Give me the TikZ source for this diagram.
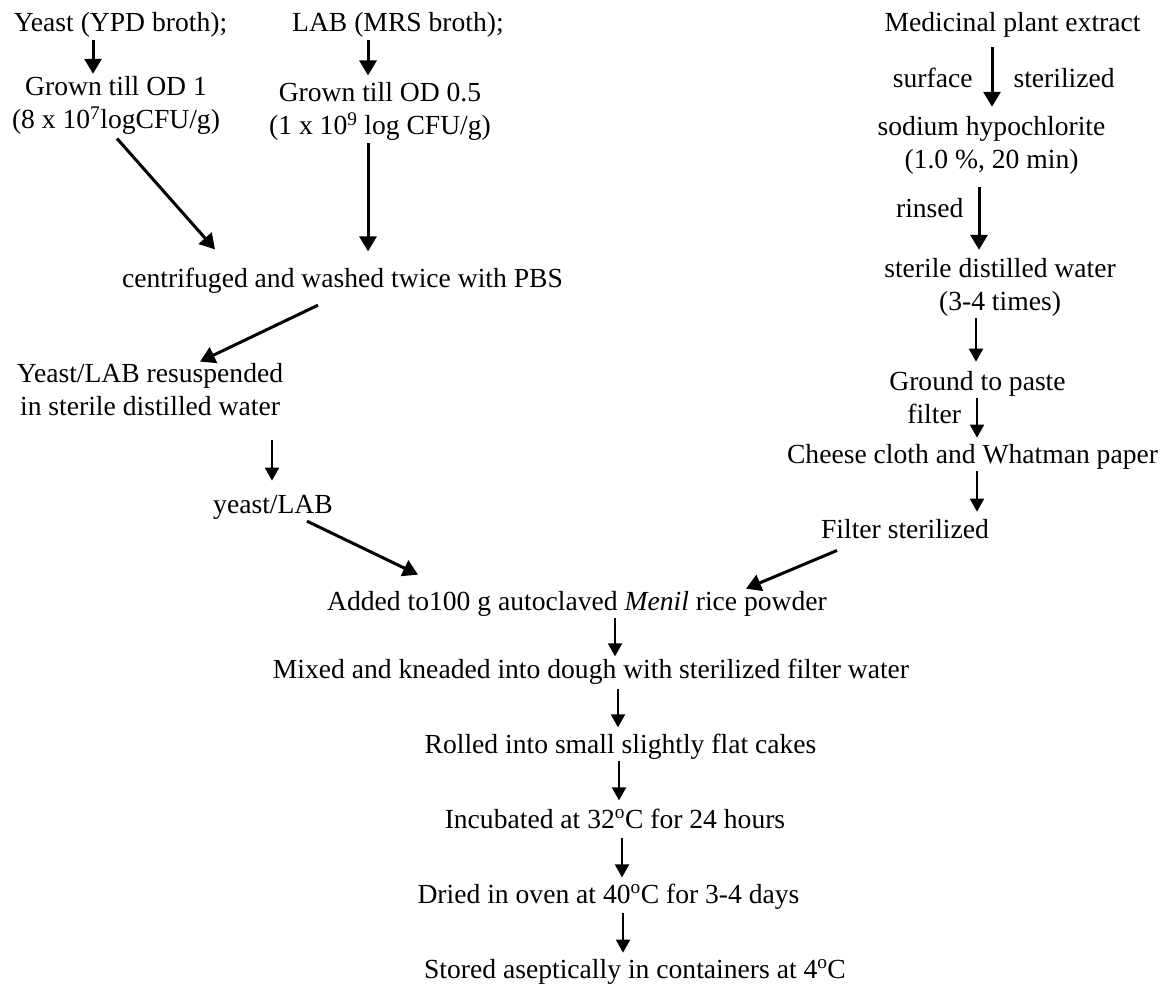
\documentclass[tikz,border=0pt]{standalone}
\usepackage{fontspec}
\setmainfont{Liberation Serif}
\usetikzlibrary{arrows.meta}

\begin{document}
\begin{tikzpicture}[x=1pt, y=-1pt,
  font=\fontsize{27.6}{33}\selectfont,
  every node/.style={inner sep=2pt},
  flow/.style={-{Triangle[length=15pt,width=17pt]}, line width=3pt},
  thinflow/.style={-{Triangle[length=13pt,width=14pt]}, line width=2pt}]

 \useasboundingbox (0,0) rectangle (1169,986);

 %left branch: cultures
 \node[anchor=base] (yeast) at (120.5,31.7) {Yeast (YPD broth);};
 \node[anchor=base] (lab) at (398,31.7) {LAB (MRS broth);};
 \node[align=center] (grownA) at (116,105) {Grown till OD 1\\(8 x 10\textsuperscript{7}logCFU/g)};
 \node[align=center] (grownB) at (380,111.7) {Grown till OD 0.5\\(1 x 10\textsuperscript{9} log CFU/g)};
 \node[anchor=base] (centr) at (342.5,287) {centrifuged and washed twice with PBS};
 \node[align=center] (resusp) at (150,390) {Yeast/LAB resuspended\\in sterile distilled water};
 \node[anchor=base] (ylab) at (273,513) {yeast/LAB};

 %right branch: plant extract
 \node[anchor=base] (medic) at (1012.5,31.7) {Medicinal plant extract};
 \node[align=center] (sodium) at (991.5,145) {sodium hypochlorite\\(1.0 \%, 20 min)};
 \node[align=center] (sterile) at (1000,287) {sterile distilled water\\(3-4 times)};
 \node[anchor=base] (ground) at (977.5,390) {Ground to paste};
 \node[anchor=base] (cheese) at (972.5,463) {Cheese cloth and Whatman paper};
 \node[anchor=base] (filtst) at (905,538) {Filter sterilized};

 %common steps
 \node[anchor=base] (added) at (577,610) {Added to100 g autoclaved \textit{Menil} rice powder};
 \node[anchor=base] (mixed) at (591,678) {Mixed and kneaded into dough with sterilized filter water};
 \node[anchor=base] (rolled) at (620.5,753) {Rolled into small slightly flat cakes};
 \node[anchor=base] (incub) at (615,828) {Incubated at 32\textsuperscript{o}C for 24 hours};
 \node[anchor=base] (dried) at (608.5,903) {Dried in oven at 40\textsuperscript{o}C for 3-4 days};
 \node[anchor=base] (stored) at (635,978) {Stored aseptically in containers at 4\textsuperscript{o}C};

 %arrows left
 \draw[flow] ([xshift=-27.5pt]yeast.south) -- ([xshift=-23pt]grownA.north);
 \draw[flow, shorten >=5pt] ([xshift=-30pt]lab.south) -- ([xshift=-12pt]grownB.north);
 \draw[flow, shorten <=3pt] ([xshift=-1pt]grownA.south) -- ([xshift=-127.5pt,yshift=16pt]centr.north);
 \draw[flow] ([xshift=-12pt]grownB.south) -- ([xshift=25.5pt,yshift=14pt]centr.north);
 \draw[flow] ([xshift=-24.5pt,yshift=-10pt]centr.south) -- ([xshift=50pt]resusp.north);
 \draw[thinflow] ([xshift=122pt,yshift=-22pt]resusp.south) -- ([xshift=-1pt,yshift=12pt]ylab.north);
 \draw[flow] ([xshift=34pt]ylab.south) -- ([xshift=-159pt,yshift=14pt]added.north);

 %arrows right
 \draw[flow] ([xshift=-20.5pt,yshift=-7pt]medic.south) -- node[pos=.525, left=18pt, inner sep=0pt] (surf) {surface}
   node[pos=.525, right=20pt, inner sep=0pt] (steril) {sterilized} ([xshift=0.5pt,yshift=7pt]sodium.north);
 \draw[flow] ([xshift=-12.5pt,yshift=-11pt]sodium.south) -- node[pos=.34, left=14pt, inner sep=0pt] (rins) {rinsed}
   ([xshift=-21pt,yshift=6pt]sterile.north);
 \draw[thinflow] ([xshift=-24pt]sterile.south) -- ([xshift=-1.5pt,yshift=7pt]ground.north);
 \draw[thinflow] ([xshift=-0.5pt]ground.south) -- node[pos=.41, left=15pt, inner sep=0pt] (filt) {filter}
   ([xshift=4.5pt,yshift=4pt]cheese.north);
 \draw[thinflow] ([xshift=4.5pt]cheese.south) -- ([xshift=72pt,yshift=5pt]filtst.north);
 \draw[flow] ([xshift=-68pt,yshift=-10pt]filtst.south) -- ([xshift=169pt]added.north);

 %arrows down
 \draw[thinflow] ([xshift=38pt]added.south) -- ([xshift=24pt]mixed.north);
 \draw[thinflow] ([xshift=27pt,yshift=-3pt]mixed.south) -- ([xshift=-2.5pt,yshift=4pt]rolled.north);
 \draw[thinflow] ([xshift=-1.5pt]rolled.south) -- ([xshift=4pt,yshift=6pt]incub.north);
 \draw[thinflow] ([xshift=7pt,yshift=-8pt]incub.south) -- ([xshift=13.5pt,yshift=4pt]dried.north);
 \draw[thinflow] ([xshift=14.5pt,yshift=-2pt]dried.south) -- ([xshift=-12pt,yshift=4pt]stored.north);

\end{tikzpicture}
\end{document}
